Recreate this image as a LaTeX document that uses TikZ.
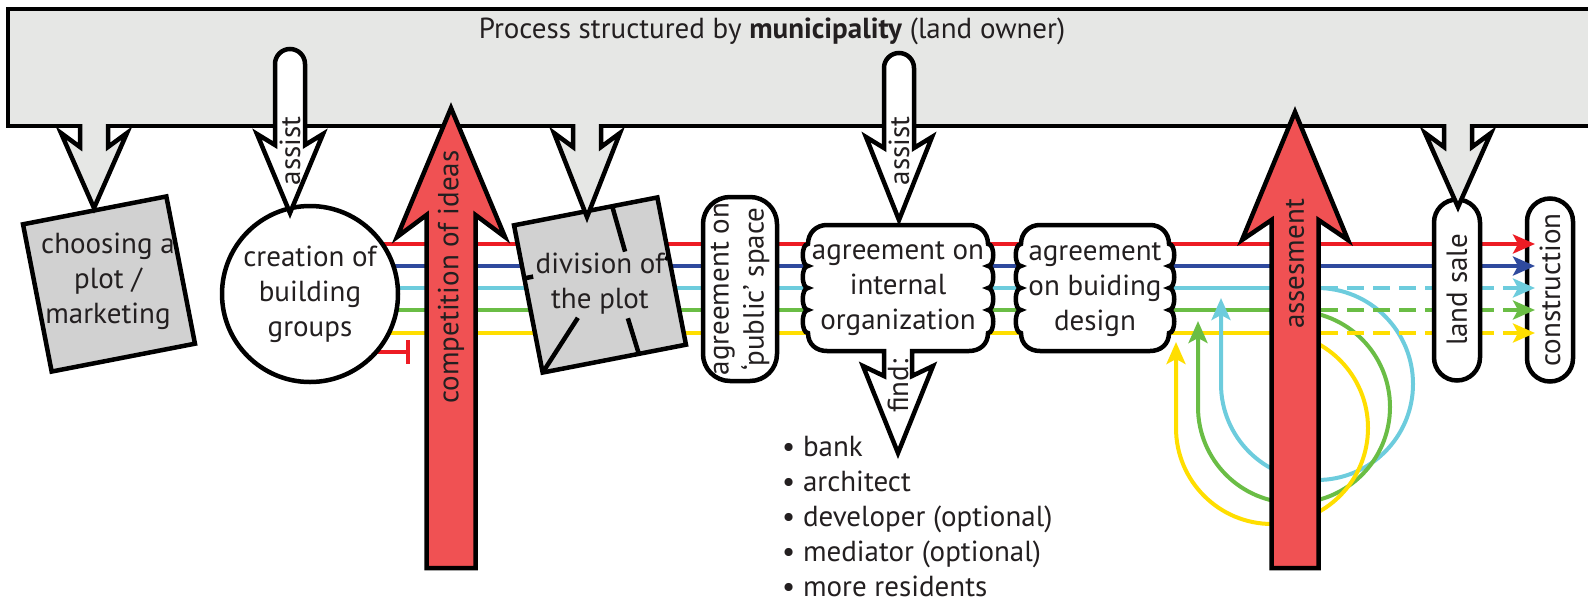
\documentclass[tikz,border=0pt]{standalone}
\usepackage{fontspec}
\setmainfont{PT Sans}
\usetikzlibrary{arrows.meta}
\definecolor{barfill}{HTML}{E6E7E5}
\definecolor{boxgray}{HTML}{D1D1D1}
\definecolor{arrowred}{HTML}{F05153}
\definecolor{txt}{HTML}{231F20}
\definecolor{fred}{HTML}{ED1C24}
\definecolor{fblue}{HTML}{2F4A9E}
\definecolor{fcyan}{HTML}{6DCCDD}
\definecolor{fgreen}{HTML}{6ABD45}
\definecolor{fyellow}{HTML}{FFDE00}
\begin{document}
\begin{tikzpicture}[x=1pt,y=-1pt,
  outline/.style={draw=black, line width=4.5pt, line join=miter, miter limit=12},
  flow/.style={line width=4pt},
  lbl/.style={text=txt, font=\fontsize{29}{35}\selectfont, align=center, inner sep=0pt},
  flowtip/.style={-{Stealth[length=22pt,width=19pt,inset=5pt]}},
  pill/.style={outline, fill=white, lbl},
  scallopR/.style={insert path={.. controls (#1+7,244) and (#1+7,266) .. (#1,266)
     .. controls (#1+7,266) and (#1+7,288) .. (#1,288)
     .. controls (#1+7,288) and (#1+7,310) .. (#1,310)
     .. controls (#1+7,310) and (#1+7,333) .. (#1,333)}},
  scallopL/.style={insert path={.. controls (#1-7,333) and (#1-7,310) .. (#1,310)
     .. controls (#1-7,310) and (#1-7,288) .. (#1,288)
     .. controls (#1-7,288) and (#1-7,266) .. (#1,266)
     .. controls (#1-7,266) and (#1-7,244) .. (#1,244)}},
]
\useasboundingbox (0,0) rectangle (1588,603);

% ---- flow lines: one per building group ----
\foreach \c/\y [count=\i] in {fred/244, fblue/266, fcyan/288, fgreen/310, fyellow/333} {
  \coordinate (src\i) at (310,\y);
  \coordinate (asl\i) at (1295,\y);
  \coordinate (cons\i) at (1535,\y);
  \draw[flow, \c] (src\i) -- (asl\i);
}
% a group that stops early
\coordinate (stopsrc) at (310,352);
\coordinate (stopend) at (410,352);
\draw[flow, fred, -{Bar[width=24pt]}] (stopsrc) -- (stopend);

% ---- feedback loops after assessment ----
\coordinate (loopc) at (1317,288);
\coordinate (loopg) at (1294,311);
\coordinate (loopy) at (1272,332);
\coordinate (backc) at (1221,298);
\coordinate (backg) at (1198,321);
\coordinate (backy) at (1176,342);
\draw[flow, fcyan, flowtip] (loopc) arc[start angle=-90, end angle=180, radius=96] -- (backc);
\draw[flow, fgreen, flowtip] (loopg) arc[start angle=-90, end angle=180, radius=96] -- (backg);
\draw[flow, fyellow, flowtip] (loopy) arc[start angle=-90, end angle=180, radius=96] -- (backy);

% ---- final step ----
\node[pill, rotate=90, rounded corners=23pt, minimum width=183pt, minimum height=46pt] (construction) at (1550,290) {construction};
\draw[flow, fred, flowtip] (asl1) -- (cons1);
\draw[flow, fblue, flowtip] (asl2) -- (cons2);
\draw[flow, fcyan, flowtip, dash pattern=on 17pt off 9pt] (asl3) -- (cons3);
\draw[flow, fgreen, flowtip, dash pattern=on 17pt off 9pt] (asl4) -- (cons4);
\draw[flow, fyellow, flowtip, dash pattern=on 17pt off 9pt] (asl5) -- (cons5);
\node[pill, rotate=90, rounded corners=23pt, minimum width=181pt, minimum height=46pt] (landsale) at (1457,290) {land sale};

% ---- municipality bar ----
\draw[outline, fill=barfill] (8,9) rectangle (1620,126);
\node[lbl] (title) at (772,31) {Process structured by \textbf{municipality} (land owner)};

% ---- steps ----
\node[outline, fill=boxgray, rotate=11, minimum width=146pt, minimum height=150pt] (plotbox) at (109,284) {};
\node[lbl] (plottext) at (108,281) {choosing a\\plot /\\marketing};

\node[outline, fill=white, circle, minimum size=176pt, lbl] (groups) at (310,294) {creation of\\building\\groups};

\begin{scope}[shift={(600,285)}, rotate=11]
  \node[outline, fill=boxgray, transform shape, minimum width=146pt, minimum height=150pt] (divbox) at (0,0) {};
  \coordinate (d1) at (27,-75);  \coordinate (d2) at (31,-28);
  \coordinate (d3) at (-73,-21); \coordinate (d4) at (-64,-21);
  \coordinate (d5) at (-73,75);  \coordinate (d6) at (-28,28);
  \coordinate (d7) at (25,75);   \coordinate (d8) at (21,38);
  \coordinate (d9) at (73,-17);  \coordinate (d10) at (69,-12);
  \draw[outline] (d1) -- (d2);
  \draw[outline] (d3) -- (d4);
  \draw[outline] (d5) -- (d6);
  \draw[outline] (d7) -- (d8);
  \draw[outline, line width=3pt] (d9) -- (d10);
\end{scope}
\node[lbl] (divtext) at (600,284) {division of\\the plot};

\node[pill, rotate=90, rounded corners=27pt, minimum width=184pt, minimum height=74pt] (public) at (740,289) {agreement on\\‘public’ space};

% internal organization, with the "find" arrow out of its bottom
\draw[outline, fill=white] (827,225) -- (969,225) .. controls (980,225) and (988,233) .. (988,244)
  [scallopR=988] .. controls (988,344) and (980,351) .. (969,351)
  -- (912,351) -- (912,376) -- (933,366) -- (898,453) -- (863,366) -- (884,376) -- (884,351)
  -- (827,351) .. controls (816,351) and (808,344) .. (808,333)
  [scallopL=808] .. controls (808,233) and (816,225) .. (827,225) -- cycle;
\node[lbl] (internal) at (898,289) {agreement on\\internal\\organization};
\node[lbl, rotate=90] (find) at (898,386) {find:};

% building design
\draw[outline, fill=white] (1040,225) -- (1150,225) .. controls (1161,225) and (1169,233) .. (1169,244)
  [scallopR=1169] .. controls (1169,344) and (1161,351) .. (1150,351)
  -- (1040,351) .. controls (1029,351) and (1021,344) .. (1021,333)
  [scallopL=1021] .. controls (1021,233) and (1029,225) .. (1040,225) -- cycle;
\node[lbl] (design) at (1095,290) {agreement\\on buiding\\design};

% ---- directive arrows from the municipality ----
\foreach \cx/\tp [count=\k] in {94/208, 587/217, 1458/207} {
  \fill[barfill] (\cx-14,118) -- (\cx-14,147) -- (\cx-33,133) -- (\cx,\tp) -- (\cx+33,133) -- (\cx+14,147) -- (\cx+14,118) -- cycle;
  \draw[outline] (\cx-14,124) -- (\cx-14,147) -- (\cx-33,133) -- (\cx,\tp) -- (\cx+33,133) -- (\cx+14,147) -- (\cx+14,124);
  \coordinate (down\k) at (\cx,\tp);
}
\foreach \cx/\ty/\tp/\by [count=\k] in {290/49/213/134, 899/53/220/137} {
  \draw[outline, fill=white] (\cx-15,\by+11) -- (\cx-15,\ty+15) arc[start angle=180, end angle=360, radius=15]
    -- (\cx+15,\by+11) -- (\cx+33,\by) -- (\cx,\tp) -- (\cx-33,\by) -- cycle;
  \node[lbl, rotate=90] (assist\k) at (\cx,151) {assist};
}

% ---- big red arrows ----
\draw[outline, fill=arrowred] (426.5,568) -- (426.5,215) -- (397,237) -- (451,108) -- (505,237) -- (475.5,215) -- (475.5,568) -- cycle;
\node[lbl, rotate=90] (ideas) at (451,277) {competition of ideas};
\draw[outline, fill=arrowred] (1271.5,568) -- (1271.5,220) -- (1242,240) -- (1295,112) -- (1348,240) -- (1318.5,220) -- (1318.5,568) -- cycle;
\node[lbl, rotate=90] (assess) at (1295,264) {assesment};

% ---- what has to be found ----
\node[lbl, align=left, anchor=north west] (findlist) at (782,436)
  {\textbullet\ bank\\\textbullet\ architect\\\textbullet\ developer (optional)\\\textbullet\ mediator (optional)\\\textbullet\ more residents};
\end{tikzpicture}
\end{document}
